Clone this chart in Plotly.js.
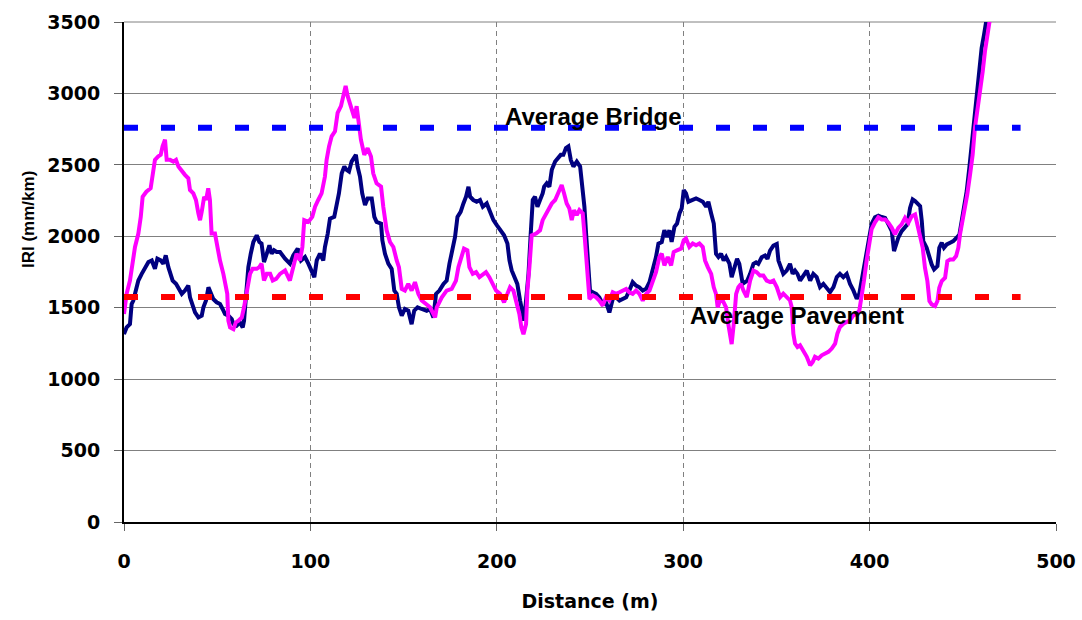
<!DOCTYPE html>
<html>
<head>
<meta charset="utf-8">
<script src="https://cdn.plot.ly/plotly-3.0.1.min.js"></script>
<style>html,body{margin:0;padding:0;background:#fff;}#chart{width:1082px;height:620px;}</style>
</head>
<body>
<div id="chart"></div>
<script>
// Series 1 (navy)
const navyDist = [0,1.4,3.2,4.1,5,6.4,7.7,9.5,11.3,13.1,14.9,16.6,17.9,19.7,21.1,22.4,23.8,24.7,26.1,27.9,29.7,31,32.7,34.5,35.4,36.9,38.1,39.9,41.7,42.6,44,45.3,46.5,47.9,49.7,51.5,52.9,54.2,56,57.8,58.7,60.4,62.2,63.7,64.4,65.5,66.7,68,69.4,71.2,72.6,73.8,75.1,76.6,78,79.2,80.5,81.9,83.7,86.4,89,90.8,93.2,95,97.1,98.9,100.7,102.1,103.4,105.1,106.9,107.8,109.3,110.5,112.8,114.1,115.3,116.8,118.2,119.4,120.7,122.1,123.6,124.4,125.3,126.6,127.8,129.3,130.7,132.9,134.3,135.5,137.9,138.6,140,141.8,143.6,145,146.3,147.5,149,150.7,152.5,154.3,155.7,157.5,159.7,162.4,164.2,166,167.4,169.2,171.4,173.1,174.6,176.4,177.6,178.9,180.6,182.1,183.5,184.8,185.7,187.4,189.2,191,192.5,194.6,196.4,198.2,200,201.8,203.9,205.7,206.8,208,209.8,211,212.5,213.9,214.6,215.7,217,218.2,219.3,220.5,221.8,223.2,224.6,225.4,226.8,228.2,229.5,231.3,233,234.3,235.7,237.1,238.4,239.7,241.1,242.9,244.7,246.1,247,248,249,250,251.5,253.3,255,256.8,258.6,260.4,262.2,264,265.8,267.6,269.4,271.1,272.9,274.7,276.5,278.3,280.1,281.9,283.7,285.4,286.7,288.5,289.9,291.3,292.6,293.8,295.3,296.7,298,299.2,300.3,301.5,302.8,304.6,306.9,308.7,310.5,312.3,313.5,315,316.4,317.6,318.9,320.3,321.7,323,324.8,326,327.5,328.9,330.1,331.9,333.2,334.4,335.9,337.7,339.1,340.3,342.1,343.9,345.2,346.6,348.4,350.2,351.1,352.3,353.7,355.5,357.3,358.7,360,361.3,362.7,364.5,366.3,368.1,369.8,371.6,373.4,375.2,377,378.8,380.6,382.4,384.1,385.9,387.7,389.5,391.3,393.1,394.5,395.8,397,398.4,399.9,401.1,402.9,404.7,406.5,408.3,410.1,411.9,413.1,414.2,415.4,417.2,419,420.3,421.7,423.1,424.4,425.6,427.1,428,428.8,430.6,432.1,433.3,434.6,436.4,437.4,438.7,439.9,441.4,443.2,444.9,446.7,448.2,449.4,450.7,452.1,453.5,454.8,456,457.5,458.9,460.1,461.4,462.5,464];
const navyIRI = [1315,1362,1385,1526,1550,1620,1690,1737,1784,1820,1831,1772,1843,1831,1808,1866,1784,1737,1690,1667,1620,1597,1620,1655,1573,1503,1467,1432,1444,1503,1550,1643,1608,1561,1538,1526,1491,1456,1444,1420,1385,1374,1397,1362,1409,1620,1784,1878,1960,2007,1960,1949,1820,1878,1937,1878,1902,1890,1890,1843,1808,1866,1914,1831,1855,1808,1761,1714,1831,1878,1831,1925,2019,2124,2136,2207,2300,2441,2488,2465,2453,2523,2547,2570,2488,2418,2300,2218,2265,2265,2136,2101,2089,1972,1878,1808,1772,1620,1597,1503,1444,1491,1479,1385,1479,1503,1491,1479,1491,1432,1597,1620,1667,1690,1808,1925,1995,2136,2171,2230,2277,2347,2277,2254,2242,2254,2207,2230,2171,2113,2078,2042,2007,1949,1831,1761,1702,1667,1550,1456,1409,1550,1737,2019,2254,2277,2207,2254,2300,2347,2371,2347,2465,2523,2547,2570,2570,2617,2629,2535,2488,2523,2488,2324,2207,2000,1760,1620,1608,1597,1573,1526,1538,1467,1561,1573,1550,1561,1573,1620,1679,1655,1643,1620,1632,1679,1761,1855,1949,1960,2042,1995,2042,1960,2066,2089,2160,2195,2324,2300,2242,2254,2265,2254,2242,2207,2242,2160,2089,1878,1855,1878,1831,1855,1808,1714,1784,1843,1808,1667,1679,1690,1737,1807,1818,1807,1853,1865,1842,1900,1935,1946,1830,1784,1737,1760,1807,1737,1760,1737,1690,1725,1760,1690,1737,1714,1644,1667,1632,1609,1644,1714,1737,1714,1737,1667,1621,1563,1598,1690,1807,1888,2005,2086,2133,2144,2135,2129,2083,2036,1896,1943,1990,2036,2059,2083,2199,2258,2246,2234,2211,2106,1966,1920,1850,1803,1768,1791,1920,1955,1920,1943,1955,1966,1990,2013,2106,2199,2316,2479,2642,2782,2945,3132,3318,3411,3500,3750];

// Series 2 (magenta)
const pinkDist = [0,1.4,3.2,4.6,5.9,7.7,9,10,12,14.3,15.4,16.6,18.4,19.7,20.7,22,22.9,24.7,26.5,27.9,29.2,31,32.7,34.5,35.4,37.2,38.6,39.9,40.8,41.7,43,44,45.2,46.1,47,48.8,50,51.5,53.3,54.7,55.4,56,56.9,58.7,60,61.4,63.2,64.4,65.5,66.7,67.6,69,71.2,72.6,73.8,75.1,76.6,78.4,79.8,81.6,83.7,86.4,89,90.8,92.6,94.4,95.7,96.7,98.9,101,102.5,104.2,106,107.8,108.7,110,111.4,113.2,114.6,116.4,117.7,118.9,120,121.2,122.5,123.6,124.8,125.7,127.1,128.9,130.7,132.5,133.7,135.5,137.9,139.1,140.9,142.7,144.5,146.3,147.5,149,150.7,152.5,154.3,156.1,157.9,159.7,162.4,164.2,166.9,167.8,170.5,173.1,175.8,178.1,179.4,181.2,182.4,184.2,185.3,187.1,188.9,190.7,192.5,194.2,196,197.8,199.6,201.7,203.9,205.7,207.1,208.9,210.7,212.1,213.2,214.3,215.7,216.4,217.5,218.7,221.1,223.2,224.6,226.4,227.7,229.5,231.3,233,234.8,236.1,237.5,238.9,240.2,241.4,242.9,244.3,246.1,247.3,248.2,249.7,251.5,253.3,255,256.8,258.6,260.4,262.2,264,265.8,267.6,269.4,271.1,272.9,274.7,276.5,278.3,280.1,281.9,283.7,285.4,287.2,288.5,289.9,291.7,293.5,294.9,296.7,298.9,300.3,301.5,303.3,305.1,306.9,308.7,310.5,311.7,313.2,315,316.4,317.6,318.5,320,321.2,323,324.2,325.3,326,327.1,328.4,329.6,331,332.3,334.1,335.9,337.7,339.4,341.2,343,344.8,346.6,348.4,350.2,352,353.7,355.5,357.3,358.2,359.1,360,361.3,362.7,364.5,366.3,368.1,369.5,370.7,372.5,374.3,376.1,377.9,379.7,381.5,382.7,384.1,385.9,387.7,389.5,391.3,393.1,394.5,395.8,397,398.4,399.9,401.1,402.9,404.7,406.5,408.3,410.1,411.9,413.6,415.4,417.2,419,420.8,422.6,424.4,425.6,427.1,428.5,429.7,431,432.1,433.3,435.1,436.4,437.4,438.7,440.5,441.7,443.2,444.9,446.4,447.6,448.5,449.9,451.2,452.4,453.9,455.3,456.5,457.8,459.2,460.7,461.9,463.2,464.3,466];
const pinkIRI = [1456,1597,1690,1830,1925,2019,2136,2277,2312,2336,2441,2535,2559,2570,2629,2676,2535,2535,2523,2535,2488,2453,2430,2406,2324,2300,2254,2160,2113,2172,2277,2254,2336,2254,2019,2019,1925,1830,1737,1643,1597,1409,1362,1350,1397,1409,1432,1503,1585,1643,1737,1772,1772,1784,1808,1690,1737,1737,1690,1702,1737,1761,1690,1784,1878,1831,1925,2113,2101,2136,2207,2254,2300,2418,2535,2629,2700,2735,2864,2911,2981,3052,2981,2934,2864,2829,2911,2817,2676,2570,2617,2559,2441,2371,2348,2207,2042,1960,1925,1831,1784,1632,1620,1667,1620,1679,1597,1550,1526,1503,1432,1503,1573,1620,1632,1690,1784,1855,1914,1902,1784,1737,1749,1714,1737,1749,1714,1667,1620,1597,1538,1597,1643,1620,1526,1456,1362,1315,1385,1620,1784,2007,2019,2042,2113,2160,2183,2230,2254,2312,2359,2300,2230,2195,2113,2183,2148,2183,2160,1972,1784,1561,1585,1573,1550,1515,1573,1550,1608,1597,1608,1620,1632,1608,1597,1620,1597,1550,1597,1620,1690,1749,1855,1878,1796,1855,1796,1890,1902,1914,1972,1984,1925,1949,1937,1949,1925,1831,1784,1737,1643,1597,1503,1561,1550,1503,1385,1292,1245,1385,1597,1643,1667,1621,1574,1690,1760,1749,1725,1725,1690,1679,1690,1644,1574,1598,1574,1551,1505,1318,1249,1225,1237,1202,1156,1097,1121,1156,1144,1167,1179,1191,1214,1249,1318,1365,1388,1400,1412,1446,1458,1481,1574,1690,1830,1970,2051,2098,2133,2118,2118,2094,2059,2013,2059,2083,2129,2094,2141,2153,2083,2013,1920,1780,1687,1547,1523,1512,1547,1640,1687,1710,1826,1838,1838,1861,1920,2013,2106,2199,2293,2433,2572,2759,2875,3015,3155,3295,3411,3500,3750];

// Reference averages
const avgDist = [0, 481];
const avgBridge = [2760, 2760];
const avgPavement = [1575, 1575];
const labelBridge = "Average Bridge";
const labelPavement = "Average Pavement";
const xTicks = [0, 100, 200, 300, 400, 500];
const yTicks = [0, 500, 1000, 1500, 2000, 2500, 3000, 3500];

const traces = [
  {x: navyDist, y: navyIRI, type: 'scatter', mode: 'lines', line: {color: '#000080', width: 4}, hoverinfo: 'skip'},
  {x: pinkDist, y: pinkIRI, type: 'scatter', mode: 'lines', line: {color: '#FF00FF', width: 4}, hoverinfo: 'skip'},
  {x: avgDist, y: avgBridge, type: 'scatter', mode: 'lines', line: {color: '#0000FF', width: 6, dash: '14px,23px'}, hoverinfo: 'skip'},
  {x: avgDist, y: avgPavement, type: 'scatter', mode: 'lines', line: {color: '#FF0000', width: 6, dash: '14px,23px'}, hoverinfo: 'skip'}
];

const tickFont = {family: 'DejaVu Sans, Arial, sans-serif', size: 19, color: '#000', weight: 'bold'};
const labelFont = {family: '"Liberation Sans", Arial, sans-serif', size: 24, color: '#000', weight: 'bold'};

const layout = {
  width: 1082, height: 620,
  margin: {l: 124, r: 26, t: 22, b: 98},
  paper_bgcolor: '#fff', plot_bgcolor: '#fff',
  showlegend: false,
  xaxis: {
    range: [0, 500], tickvals: xTicks, ticktext: xTicks.map(String),
    showgrid: true, gridcolor: '#808080', gridwidth: 1, griddash: '5px,4px',
    zeroline: false, showline: true, linecolor: '#000', linewidth: 2,
    ticks: 'outside', ticklen: 7, tickcolor: '#666', tickwidth: 1,
    ticklabelstandoff: 14,
    tickfont: tickFont,
    title: {text: 'Distance (m)', font: tickFont, standoff: 24}
  },
  yaxis: {
    range: [0, 3500], tickvals: yTicks, ticktext: yTicks.map(String),
    showgrid: true, gridcolor: '#808080', gridwidth: 1,
    zeroline: false, showline: true, linecolor: '#000', linewidth: 2,
    ticks: 'outside', ticklen: 8, tickcolor: '#666', tickwidth: 1,
    ticklabelstandoff: 10,
    tickfont: tickFont
  },
  shapes: [
    {type: 'line', xref: 'paper', yref: 'paper', x0: 0, x1: 1, y0: 1, y1: 1, line: {color: '#808080', width: 1}, layer: 'below'}
  ],
  annotations: [
    {xref: 'paper', yref: 'paper', x: -0.103, y: 0.604, xanchor: 'center', yanchor: 'middle',
     text: 'IRI (mm/km)', textangle: -90, showarrow: false,
     font: {family: '"Liberation Sans", Arial, sans-serif', size: 17, color: '#000', weight: 'bold'}},
    {xref: 'x', yref: 'y', x: 252, y: 2842, xanchor: 'center', yanchor: 'middle',
     text: labelBridge, showarrow: false, font: labelFont},
    {xref: 'x', yref: 'y', x: 361.3, y: 1444, xanchor: 'center', yanchor: 'middle',
     text: labelPavement, showarrow: false, font: labelFont}
  ]
};

Plotly.newPlot('chart', traces, layout, {displayModeBar: false, staticPlot: true});
</script>
</body>
</html>
